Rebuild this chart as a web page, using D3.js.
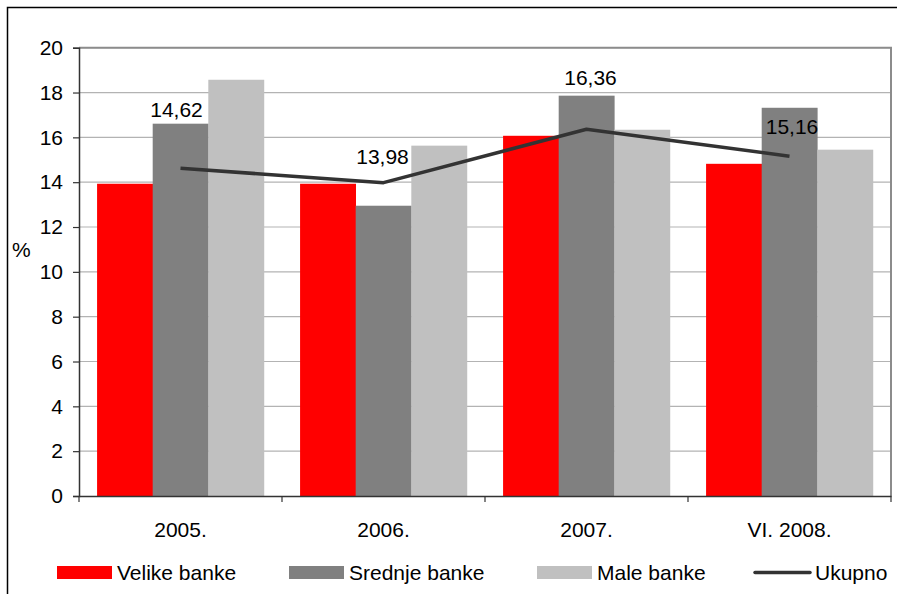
<!DOCTYPE html>
<html>
<head>
<meta charset="utf-8">
<script src="https://cdn.jsdelivr.net/npm/d3@7"></script>
<style>
  html, body { margin: 0; padding: 0; background: #fff; }
  svg { display: block; font-family: "Liberation Sans", Arial, sans-serif; }
</style>
</head>
<body>
<svg id="chart" width="897" height="594"></svg>
<script>
// ---- data ----
const categories = ["2005.", "2006.", "2007.", "VI. 2008."];
const velikeBanke  = [13.93, 13.93, 16.07, 14.82];
const srednjeBanke = [16.61, 12.95, 17.86, 17.32];
const maleBanke    = [18.57, 15.63, 16.34, 15.45];
const ukupno       = [14.62, 13.98, 16.36, 15.16];
const ukupnoLabels = ["14,62", "13,98", "16,36", "15,16"];
const yTicks = [0, 2, 4, 6, 8, 10, 12, 14, 16, 18, 20];
const seriesNames = ["Velike banke", "Srednje banke", "Male banke", "Ukupno"];

// ---- layout ----
const svg = d3.select("#chart");
const W = 897, H = 594;
const plot = { left: 79, right: 891, top: 47.7, bottom: 496 };
const colors = ["#FF0000", "#808080", "#C0C0C0"];
const lineColor = "#333333";
const fontSize = 21;

// outer frame (extends past right/bottom edges as in the reference)
svg.append("rect")
  .attr("x", 7.5).attr("y", 7.5)
  .attr("width", W + 20).attr("height", H + 20)
  .attr("fill", "none").attr("stroke", "#000").attr("stroke-width", 1.5);

const x = d3.scaleBand().domain(categories).range([plot.left, plot.right]).paddingInner(0).paddingOuter(0);
const y = d3.scaleLinear().domain([0, 20]).range([plot.bottom, plot.top]);

const barGroupPad = 0.65; // Excel gap width 65%
const barW = x.bandwidth() / (3 + barGroupPad);
const groupOffset = (x.bandwidth() - 3 * barW) / 2;

// gridlines
svg.append("g").selectAll("line").data(yTicks.filter(d => d > 0)).join("line")
  .attr("x1", plot.left).attr("x2", plot.right)
  .attr("y1", d => y(d)).attr("y2", d => y(d))
  .attr("stroke", "#b3b3b3").attr("stroke-width", 1.2);

// plot border top/right
svg.append("path")
  .attr("d", `M${plot.left},${plot.top}H${plot.right}V${plot.bottom}`)
  .attr("fill", "none").attr("stroke", "#8c8c8c").attr("stroke-width", 2);

// bars
const series = [velikeBanke, srednjeBanke, maleBanke];
series.forEach((vals, si) => {
  svg.append("g").selectAll("rect").data(vals).join("rect")
    .attr("x", (d, i) => x(categories[i]) + groupOffset + si * barW)
    .attr("y", d => y(d))
    .attr("width", barW + 0.3)
    .attr("height", d => y(0) - y(d))
    .attr("fill", colors[si]);
});

// y axis
const yAxis = d3.axisLeft(y).tickValues(yTicks).tickSize(6).tickPadding(10).tickFormat(d3.format("d"));
const gy = svg.append("g").attr("transform", `translate(${plot.left},0)`).call(yAxis);
gy.select(".domain").attr("stroke", "#333").attr("stroke-width", 1.5);
gy.selectAll(".tick line").attr("stroke", "#333").attr("stroke-width", 1.2);
gy.selectAll(".tick text").attr("font-size", fontSize).attr("fill", "#000")
  .attr("font-family", "Liberation Sans, Arial, sans-serif");

// x axis
const xAxis = d3.axisBottom(x).tickSize(0).tickPadding(26);
const gx = svg.append("g").attr("transform", `translate(0,${plot.bottom})`).call(xAxis);
gx.select(".domain").attr("stroke", "#333").attr("stroke-width", 1.5);
gx.selectAll(".tick text").attr("font-size", fontSize).attr("fill", "#000")
  .attr("font-family", "Liberation Sans, Arial, sans-serif");
// category boundary ticks
const bounds = categories.map(c => x(c)).concat([plot.right]);
svg.append("g").selectAll("line").data(bounds).join("line")
  .attr("x1", d => d).attr("x2", d => d)
  .attr("y1", plot.bottom).attr("y2", plot.bottom + 6)
  .attr("stroke", "#333").attr("stroke-width", 1.2);

// y axis title
svg.append("text").attr("x", 12).attr("y", 257)
  .attr("font-size", fontSize).text("%");

// line series
const cx = c => x(c) + x.bandwidth() / 2;
const line = d3.line().x((d, i) => cx(categories[i])).y(d => y(d));
svg.append("path").datum(ukupno)
  .attr("d", line)
  .attr("fill", "none").attr("stroke", lineColor).attr("stroke-width", 3.5)
  .attr("stroke-linejoin", "round");

// data labels (placed as in the reference)
const labelLift = [51, 19, 44, 22];
const labelShift = [-4, -1, 4, 2.5];
svg.append("g").selectAll("text").data(ukupno).join("text")
  .attr("x", (d, i) => cx(categories[i]) + labelShift[i])
  .attr("y", (d, i) => y(d) - labelLift[i])
  .attr("text-anchor", "middle")
  .attr("font-size", fontSize)
  .attr("fill", "#000")
  .text((d, i) => ukupnoLabels[i]);

// legend
const legendY = 572.5;
const legendItems = [
  { name: seriesNames[0], type: "rect", color: colors[0], x: 57 },
  { name: seriesNames[1], type: "rect", color: colors[1], x: 289 },
  { name: seriesNames[2], type: "rect", color: colors[2], x: 537 },
  { name: seriesNames[3], type: "line", color: lineColor, x: 755 }
];
const lg = svg.append("g");
legendItems.forEach(it => {
  if (it.type === "rect") {
    lg.append("rect").attr("x", it.x).attr("y", legendY - 6.5)
      .attr("width", 55).attr("height", 13).attr("fill", it.color);
  } else {
    lg.append("line").attr("x1", it.x).attr("x2", it.x + 55)
      .attr("y1", legendY).attr("y2", legendY)
      .attr("stroke", it.color).attr("stroke-width", 3.5).attr("stroke-linecap", "round");
  }
  lg.append("text").attr("x", it.x + 60).attr("y", legendY + 7.5)
    .attr("font-size", fontSize).attr("fill", "#000").text(it.name);
});
</script>
</body>
</html>
